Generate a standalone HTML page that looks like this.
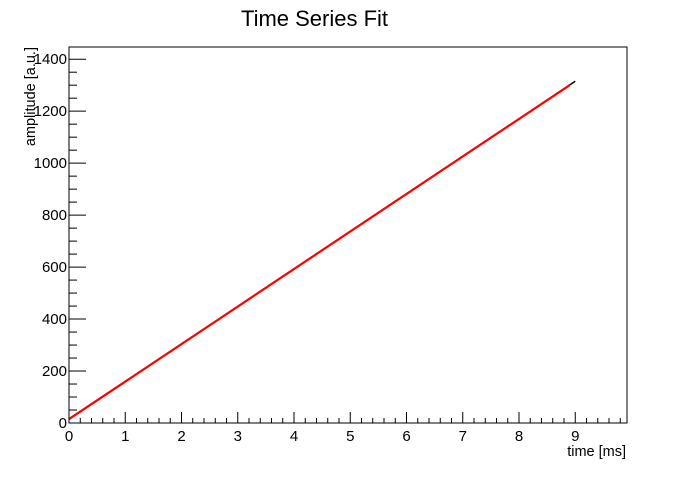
<!DOCTYPE html>
<html><head><meta charset="utf-8"><style>
body{margin:0;background:#fff;}
svg text{font-family:"Liberation Sans",Arial,sans-serif;}
</style></head><body>
<svg id="chart" width="696" height="472" viewBox="0 0 696 472" xmlns="http://www.w3.org/2000/svg">
<rect width="696" height="472" fill="#fff"/>
<text x="314.5" y="26" font-size="22" text-anchor="middle">Time Series Fit</text>
<g id="plot"></g>
<rect x="69" y="47" width="558" height="376" fill="none" stroke="#000" stroke-width="1"/>
<text x="626" y="456" font-size="14.5" text-anchor="end">time [ms]</text>
<text transform="translate(35,47) rotate(-90)" font-size="14.5" text-anchor="end">amplitude [a.u.]</text>
</svg>
<script>
const times = [0,0.5,1,1.5,2,2.5,3,3.5,4,4.5,5,5.5,6,6.5,7,7.5,8,8.5,9];
const amplitudes = [15,88,159,232,304,376,448,521,592,665,737,809,881,953,1026,1098,1170,1242,1315];
const fitRange = [0,8.9];
const fitParams = [15,144.4];
const xTicks = [0,1,2,3,4,5,6,7,8,9];
const yTicks = [0,200,400,600,800,1000,1200,1400];
const X0=69,X1=627,Y0=423,Y1=47,xMax=9.92,yMax=1447;
const sx=v=>X0+v/xMax*(X1-X0), sy=v=>Y0-v/yMax*(Y0-Y1);
const NS="http://www.w3.org/2000/svg", g=document.getElementById('plot');
function mk(t,a){const e=document.createElementNS(NS,t);for(const k in a)e.setAttribute(k,a[k]);g.appendChild(e);return e;}
for(let i=0;i<=xMax*5+0.001;i++){const v=i/5;const maj=i%5===0;
 const t=mk('line',{x1:sx(v),x2:sx(v),y1:Y0,y2:Y0-(maj?11:5),stroke:'#000'});
 
 }
xTicks.forEach(v=>{const t=mk('text',{x:sx(v),y:Y0+18,'font-size':15,'text-anchor':'middle'});t.textContent=v;
 
 });
for(let v=0;v<=yMax;v+=50){const maj=v%200===0;
 const t=mk('line',{x1:X0,x2:X0+(maj?17:8),y1:sy(v),y2:sy(v),stroke:'#000'});
 
 }
yTicks.forEach(v=>{const t=mk('text',{x:X0-2,y:sy(v)+5,'font-size':15,'text-anchor':'end'});t.textContent=v;
 
 });
const d=mk('polyline',{points:times.map((t,i)=>sx(t)+','+sy(amplitudes[i])).join(' '),fill:'none',stroke:'#000','stroke-width':1.5});


const f=mk('line',{x1:sx(fitRange[0]),y1:sy(fitParams[0]+fitParams[1]*fitRange[0]),x2:sx(fitRange[1]),y2:sy(fitParams[0]+fitParams[1]*fitRange[1]),stroke:'#f00','stroke-width':2.2});


</script>
</body></html>
